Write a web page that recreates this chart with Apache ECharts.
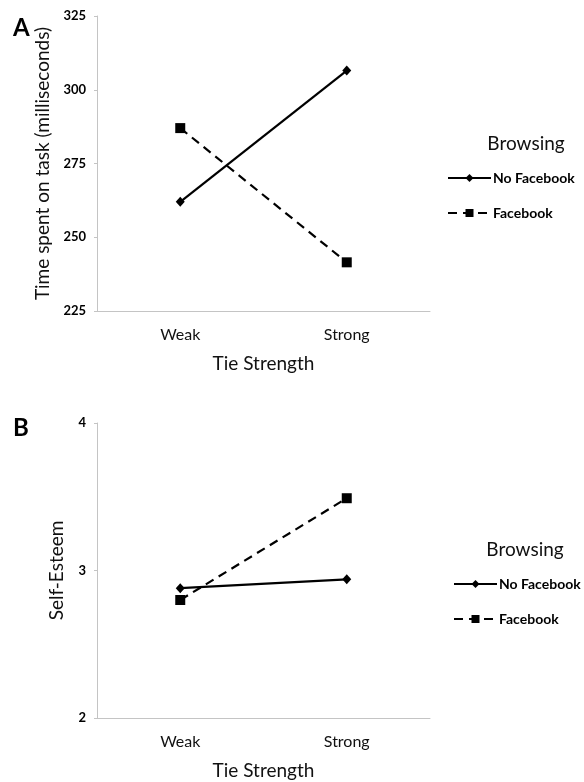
<!DOCTYPE html>
<html>
<head>
<meta charset="utf-8">
<script src="https://cdn.jsdelivr.net/npm/echarts@6/dist/echarts.min.js"></script>
<style>html,body{margin:0;padding:0;background:#fff;}#c{width:584px;height:782px;}</style>
</head>
<body>
<div id="c"></div>
<script>
const categories = ['Weak', 'Strong'];
const timeNoFacebook = [262, 306.5];
const timeFacebook = [287, 241.5];
const esteemNoFacebook = [2.88, 2.94];
const esteemFacebook = [2.80, 3.49];
const seriesNames = ['No Facebook', 'Facebook'];

const FONT = 'Lato';
const chart = echarts.init(document.getElementById('c'));

function xAxis(gridIndex) {
  return {
    type: 'category', gridIndex, data: categories, boundaryGap: true,
    axisLine: { lineStyle: { color: '#c4c4c4', width: 1 } },
    axisTick: { show: false },
    axisLabel: { color: '#111', fontFamily: FONT, fontSize: 16, margin: 16 },
    name: 'Tie Strength', nameLocation: 'middle', nameGap: 43,
    nameTextStyle: { color: '#111', fontFamily: FONT, fontSize: 19 }
  };
}
function yAxis(gridIndex, min, max, interval, name, gap) {
  return {
    type: 'value', gridIndex, min, max, interval,
    axisLine: { show: true, lineStyle: { color: '#c4c4c4', width: 1 } },
    axisTick: { show: true, length: 3, lineStyle: { color: '#c4c4c4' } },
    splitLine: { show: false },
    axisLabel: { color: '#000', fontFamily: FONT, fontSize: 13, fontWeight: 'bold', margin: 11 },
    name, nameLocation: 'middle', nameGap: gap,
    nameTextStyle: { color: '#111', fontFamily: FONT, fontSize: 19 }
  };
}
function line(name, data, idx, dashed) {
  return {
    name, type: 'line', xAxisIndex: idx, yAxisIndex: idx, data,
    symbol: dashed ? 'rect' : 'diamond',
    symbolSize: dashed ? 10 : [9, 10],
    showSymbol: true,
    itemStyle: { color: '#000' },
    lineStyle: { color: '#000', width: 2.2, type: dashed ? [9, 6] : 'solid' },
    emphasis: { disabled: true },
    animation: false
  };
}
function legend(left, top) {
  return {
    data: seriesNames, orient: 'vertical', left, top, padding: 0,
    itemWidth: 43, itemHeight: 10, itemGap: 21,
    textStyle: { color: '#000', fontFamily: FONT, fontSize: 14, fontWeight: 'bold', padding: [0, 0, 0, -3] },
    selectedMode: false
  };
}

chart.setOption({
  animation: false,
  title: [
    { text: 'A', left: 8, top: 11, textStyle: { fontFamily: FONT, fontSize: 24, fontWeight: 'bold', color: '#000' } },
    { text: 'B', left: 8, top: 411, textStyle: { fontFamily: FONT, fontSize: 24, fontWeight: 'bold', color: '#000' } },
    { text: 'Browsing', left: 521, top: 129, textAlign: 'center', textStyle: { fontFamily: FONT, fontSize: 19, fontWeight: 'normal', color: '#111' } },
    { text: 'Browsing', left: 520, top: 535, textAlign: 'center', textStyle: { fontFamily: FONT, fontSize: 19, fontWeight: 'normal', color: '#111' } }
  ],
  grid: [
    { left: 97, right: 154, top: 16, height: 295 },
    { left: 97, right: 154, top: 423, height: 295 }
  ],
  xAxis: [xAxis(0), xAxis(1)],
  yAxis: [
    yAxis(0, 225, 325, 25, 'Time spent on task (milliseconds)', 45),
    yAxis(1, 2, 4, 1, 'Self-Esteem', 31)
  ],
  legend: [legend(447, 171), legend(453, 577)],
  series: [
    line(seriesNames[0], timeNoFacebook, 0, false),
    line(seriesNames[1], timeFacebook, 0, true),
    line(seriesNames[0], esteemNoFacebook, 1, false),
    line(seriesNames[1], esteemFacebook, 1, true)
  ]
});
</script>
</body>
</html>
